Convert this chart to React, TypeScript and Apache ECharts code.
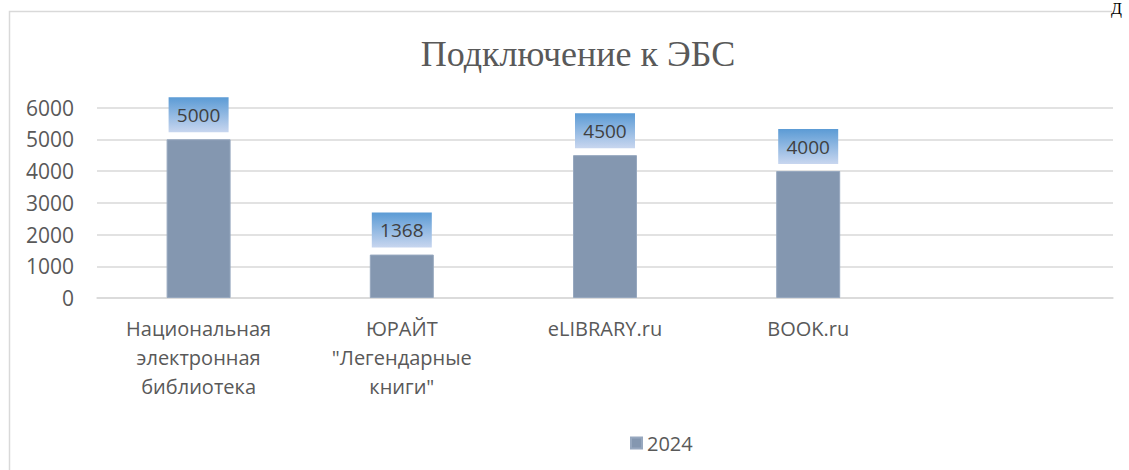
import React, { useEffect, useRef } from "react";
import * as echarts from "echarts";

const categories = [
  "Национальная\nэлектронная\nбиблиотека",
  "ЮРАЙТ\n\"Легендарные\nкниги\"",
  "eLIBRARY.ru",
  "BOOK.ru",
  "",
];
const values2024: (number | null)[] = [5000, 1368, 4500, 4000, null];
const seriesName = "2024";
const yTicks = { min: 0, max: 6000, interval: 1000 };
const titleText = "Подключение к ЭБС";

export default function App() {
  const ref = useRef<HTMLDivElement>(null);
  useEffect(() => {
    document.body.style.margin = "0";
    const chart = echarts.init(ref.current!, null, { renderer: "svg" });
    const labelFont = '"Open Sans", "Noto Sans", sans-serif';
    const boxW = 60;
    const boxH = 35;
    const gap = 7;
    chart.setOption({
      animation: false,
      backgroundColor: "#ffffff",
      title: {
        text: titleText,
        left: 573,
        textAlign: "center",
        top: 31,
        textStyle: {
          fontFamily: '"Liberation Serif", "DejaVu Serif", serif',
          fontSize: 36,
          fontWeight: "normal",
          color: "#595959",
        },
      },
      grid: { left: 97, right: 16, top: 107.5, bottom: 172, containLabel: false },
      legend: {
        data: [seriesName],
        left: 625,
        top: 428,
        icon: "rect",
        itemWidth: 11,
        itemHeight: 11,
        itemGap: 5,
        textStyle: { fontFamily: labelFont, fontSize: 20, color: "#595959" },
      },
      xAxis: {
        type: "category",
        data: categories,
        axisLine: { lineStyle: { color: "#d9d9d9", width: 1.5 } },
        axisTick: { show: false },
        axisLabel: {
          interval: 0,
          margin: 16,
          fontFamily: labelFont,
          fontSize: 20,
          lineHeight: 29,
          color: "#595959",
          align: "center",
        },
      },
      yAxis: {
        type: "value",
        min: yTicks.min,
        max: yTicks.max,
        interval: yTicks.interval,
        axisLine: { show: false },
        axisTick: { show: false },
        splitLine: { lineStyle: { color: "#d9d9d9", width: 1.5 } },
        axisLabel: {
          margin: 23,
          fontFamily: labelFont,
          fontSize: 21,
          color: "#595959",
          formatter: (v: number) => String(v),
        },
      },
      graphic: [
        {
          type: "polyline",
          shape: { points: [[9.5, 470], [9.5, 11.5], [1112, 11.5]] },
          style: { stroke: "#d9d9d9", lineWidth: 1.5, fill: "none" },
          silent: true,
        },
        {
          type: "text",
          x: 1111,
          y: 0,
          style: {
            text: "Д",
            font: '16px "Liberation Serif", serif',
            fill: "#000000",
          },
        },
      ],
      series: [
        {
          name: seriesName,
          type: "bar",
          data: values2024,
          barWidth: 64,
          itemStyle: { color: "#8497b0", borderColor: "#97a8bf", borderWidth: 1 },
        },
        {
          name: "labels",
          type: "custom",
          data: values2024
            .map((v, i) => (v == null ? null : [i, v]))
            .filter((d) => d != null),
          encode: { x: 0, y: 1 },
          z: 5,
          renderItem: (params: any, api: any) => {
            const idx = api.value(0);
            const v = api.value(1);
            const p = api.coord([idx, v]);
            return {
              type: "group",
              children: [
                {
                  type: "rect",
                  shape: { x: p[0] - boxW / 2, y: p[1] - gap - boxH, width: boxW, height: boxH },
                  style: {
                    fill: new echarts.graphic.LinearGradient(0, 0, 0, 1, [
                      { offset: 0, color: "#5b9bd5" },
                      { offset: 1, color: "#c8d6ef" },
                    ]),
                  },
                },
                {
                  type: "text",
                  x: p[0],
                  y: p[1] - gap - boxH / 2,
                  style: {
                    text: String(v),
                    align: "center",
                    verticalAlign: "middle",
                    font: '19px "Open Sans", "Noto Sans", sans-serif',
                    fill: "#404040",
                  },
                },
              ],
            };
          },
        },
      ],
    });
    return () => chart.dispose();
  }, []);
  return <div ref={ref} style={{ width: 1129, height: 470 }} />;
}
